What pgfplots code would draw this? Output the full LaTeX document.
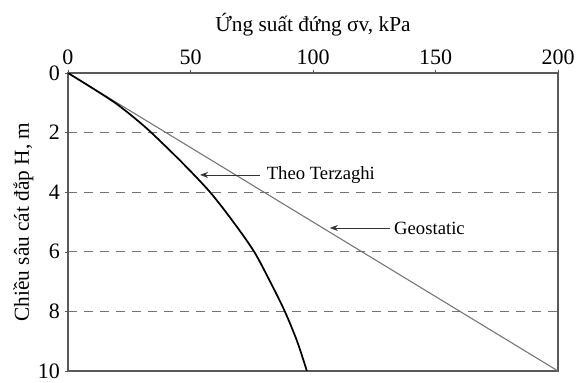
\documentclass[border=0pt]{standalone}
\usepackage{pgfplots}
\pgfplotsset{compat=1.18}
\usepackage{fontspec}
\setmainfont{Liberation Serif}
\usetikzlibrary{arrows.meta}
\begin{document}
\begin{tikzpicture}
\useasboundingbox (-51pt,-8.25pt) rectangle (381.75pt,278.25pt);
\begin{axis}[
  width=367.5pt, height=223.5pt, scale only axis,
  xmin=0, xmax=200, ymin=0, ymax=10,
  y dir=reverse,
  xtick={0,50,100,150,200}, ytick={0,2,4,6,8,10},
  xtick pos=upper, xticklabel pos=upper,
  ytick pos=left,
  tick align=outside, major tick length=2.5pt,
  axis line style={draw=black!65, line width=0.9pt},
  tick style={draw=black!65},
  ymajorgrids=true,
  grid style={dashed, draw=black!55, line width=0.8pt, dash pattern=on 7pt off 5pt},
  /pgf/number format/assume math mode=true,
  tick label style={font=\fontsize{16.5}{18}\selectfont},
  label style={font=\fontsize{16}{18}\selectfont},
  xlabel={Ứng suất đứng σv, kPa},
  xlabel style={at={(axis description cs:0.5,1)}, anchor=base, inner sep=0pt, yshift=30.75pt},
  ylabel={Chiều sâu cát đắp H, m},
  ylabel style={at={(axis description cs:-0.08,0.5)}, anchor=base, inner sep=0pt},
]
% Geostatic
\addplot[draw=black!55, line width=0.8pt] coordinates {(0,0) (200,10)};
% Theo Terzaghi
\addplot[black, line width=1.3pt, smooth] coordinates {
  (0,0) (9.8,0.5) (19.2,1) (27,1.5) (34,2) (46.5,3) (58,4) (67.5,5)
  (76,6) (82.5,7) (88.5,8) (93.5,9) (97.5,10)
};
\draw[black!80, line width=0.6pt, -{Stealth[length=6pt]}] (axis cs:78.4,3.42) -- (axis cs:53.9,3.42);
\node[anchor=west, inner sep=1pt, font=\fontsize{14}{16}\selectfont] at (axis cs:80.5,3.42) {Theo Terzaghi};
\draw[black!80, line width=0.6pt, -{Stealth[length=6pt]}] (axis cs:131.4,5.2) -- (axis cs:106.9,5.2);
\node[anchor=west, inner sep=1pt, font=\fontsize{14}{16}\selectfont] at (axis cs:132.5,5.2) {Geostatic};
\end{axis}
\end{tikzpicture}
\end{document}
